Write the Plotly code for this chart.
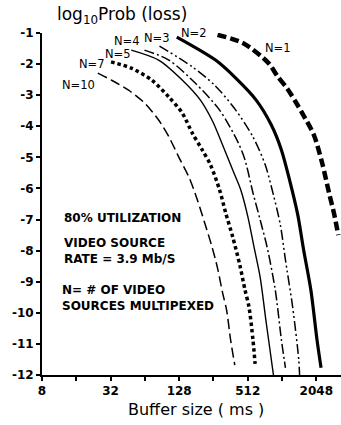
import plotly.graph_objects as go

# ---- data ----
n1_ms = [278, 464, 776, 929, 1144, 1351, 1553, 1950, 2304, 2647, 2937, 3191]
n1_lp = [-1.06, -1.32, -1.96, -2.38, -2.80, -3.22, -3.60, -4.28, -5.18, -6.14, -6.82, -7.50]

n2_ms = [122, 267, 402, 605, 825, 1011, 1193, 1408, 1585, 1833, 2077, 2253]
n2_lp = [-1.13, -1.87, -2.45, -3.15, -3.96, -4.76, -5.73, -6.85, -7.98, -9.26, -10.87, -11.77]

n3_ms = [86, 167, 261, 402, 569, 729, 861, 990, 1097, 1269, 1436, 1460]
n3_lp = [-1.42, -2.09, -2.67, -3.48, -4.34, -5.24, -6.21, -7.17, -8.30, -9.81, -11.51, -12.0]

n4_ms = [63.5, 104, 177, 290, 419, 484, 569, 658, 760, 893, 1011, 1097]
n4_lp = [-1.55, -1.87, -2.61, -3.48, -4.50, -5.08, -6.14, -7.01, -7.91, -9.26, -10.87, -11.77]

n5_ms = [48.6, 84.5, 136, 196, 251, 308, 378, 445, 514, 581, 658, 744, 861]
n5_lp = [-1.55, -1.87, -2.51, -3.15, -3.83, -4.60, -5.41, -6.05, -6.92, -7.88, -8.85, -10.32, -12.0]

n7_ms = [32.3, 48.6, 73.3, 104, 136, 167, 204, 241, 290, 328, 378, 436, 484, 525, 569, 594]
n7_lp = [-1.93, -2.13, -2.51, -3.06, -3.57, -4.22, -4.76, -5.24, -6.05, -6.79, -7.56, -8.46, -9.26, -9.81, -10.87, -11.64]

n10_ms = [24.7, 32.3, 45.7, 63.5, 84.5, 104, 127, 157, 185, 217, 246, 278, 308, 334, 362, 394]
n10_lp = [-2.29, -2.51, -2.83, -3.25, -3.80, -4.34, -4.99, -5.66, -6.37, -7.17, -7.82, -8.56, -9.36, -9.91, -10.87, -11.68]

x_tickvals = [8, 16, 32, 64, 128, 256, 512, 1024, 2048]
x_ticktext = ["8", "", "32", "", "128", "", "512", "", "2048"]
y_tickvals = [-1, -2, -3, -4, -5, -6, -7, -8, -9, -10, -11, -12]
y_ticktext = ["-1", "-2", "-3", "-4", "-5", "-6", "-7", "-8", "-9", "-10", "-11", "-12"]

series = [
    ("N=1", n1_ms, n1_lp, dict(width=4.5, dash="9px,4px")),
    ("N=2", n2_ms, n2_lp, dict(width=3.2, dash="solid")),
    ("N=3", n3_ms, n3_lp, dict(width=1.5, dash="10px,3px,2px,3px,2px,3px")),
    ("N=4", n4_ms, n4_lp, dict(width=1.5, dash="10px,3px,2px,3px")),
    ("N=5", n5_ms, n5_lp, dict(width=1.4, dash="solid")),
    ("N=7", n7_ms, n7_lp, dict(width=3.5, dash="3.5px,3px")),
    ("N=10", n10_ms, n10_lp, dict(width=1.5, dash="10px,4.5px")),
]

W, H = 341, 425
L, R, T, B = 42, 0, 33, 50
PW, PH = W - L - R, H - T - B

def px(x):
    return (x - L) / PW

def py(y):
    return (H - B - y) / PH

fig = go.Figure()
for name, xs, ys, ln in series:
    fig.add_trace(go.Scatter(
        x=xs, y=ys, mode="lines", name=name,
        line=dict(color="black", shape="spline", smoothing=0.8, **ln),
        showlegend=False, hoverinfo="skip",
    ))

FONT = "DejaVu Sans"
labels = [
    ("N=1", 278, 48), ("N=2", 194, 33), ("N=3", 157, 38), ("N=4", 127, 41),
    ("N=5", 118, 54), ("N=7", 92, 64), ("N=10", 78, 85),
]
for t, x, y in labels:
    fig.add_annotation(text=t, x=px(x), y=py(y), xref="paper", yref="paper",
                       showarrow=False, xanchor="center", yanchor="middle",
                       font=dict(family=FONT, size=11.5, color="black"))

notes = [
    ("<b>80% UTILIZATION</b>", 62, 218),
    ("<b>VIDEO SOURCE<br>RATE = 3.9 Mb/S</b>", 62, 251),
    ("<b>N= # OF VIDEO<br>SOURCES MULTIPEXED</b>", 60, 298),
]
for t, x, y in notes:
    fig.add_annotation(text=t, x=px(x), y=py(y), xref="paper", yref="paper",
                       showarrow=False, xanchor="left", yanchor="middle", align="left",
                       font=dict(family=FONT, size=12, color="black"))

fig.add_annotation(text="log<sub>10</sub>Prob (loss)", x=px(55), y=py(16),
                   xref="paper", yref="paper", showarrow=False,
                   xanchor="left", yanchor="middle",
                   font=dict(family=FONT, size=17, color="black"))
fig.add_annotation(text="Buffer size ( ms )", x=px(196), y=py(409),
                   xref="paper", yref="paper", showarrow=False,
                   xanchor="center", yanchor="middle",
                   font=dict(family=FONT, size=16, color="black"))

fig.update_layout(
    width=W, height=H,
    margin=dict(l=L, r=R, t=T, b=B),
    paper_bgcolor="white", plot_bgcolor="white",
    font=dict(family=FONT, color="black"),
)
fig.update_xaxes(
    type="log", range=[0.903, 3.528],
    tickvals=x_tickvals, ticktext=x_ticktext,
    ticks="outside", ticklen=4, tickwidth=1.5, tickcolor="black",
    showline=True, linecolor="black", linewidth=1.8,
    showgrid=False, zeroline=False,
    tickfont=dict(family=FONT, size=12, color="black", weight="bold"),
)
fig.update_yaxes(
    range=[-12, -1],
    tickvals=y_tickvals, ticktext=y_ticktext,
    ticks="outside", ticklen=4, tickwidth=1.5, tickcolor="black",
    showline=True, linecolor="black", linewidth=2,
    showgrid=False, zeroline=False,
    tickfont=dict(family=FONT, size=12, color="black", weight="bold"),
)

fig.write_html("out.html")
